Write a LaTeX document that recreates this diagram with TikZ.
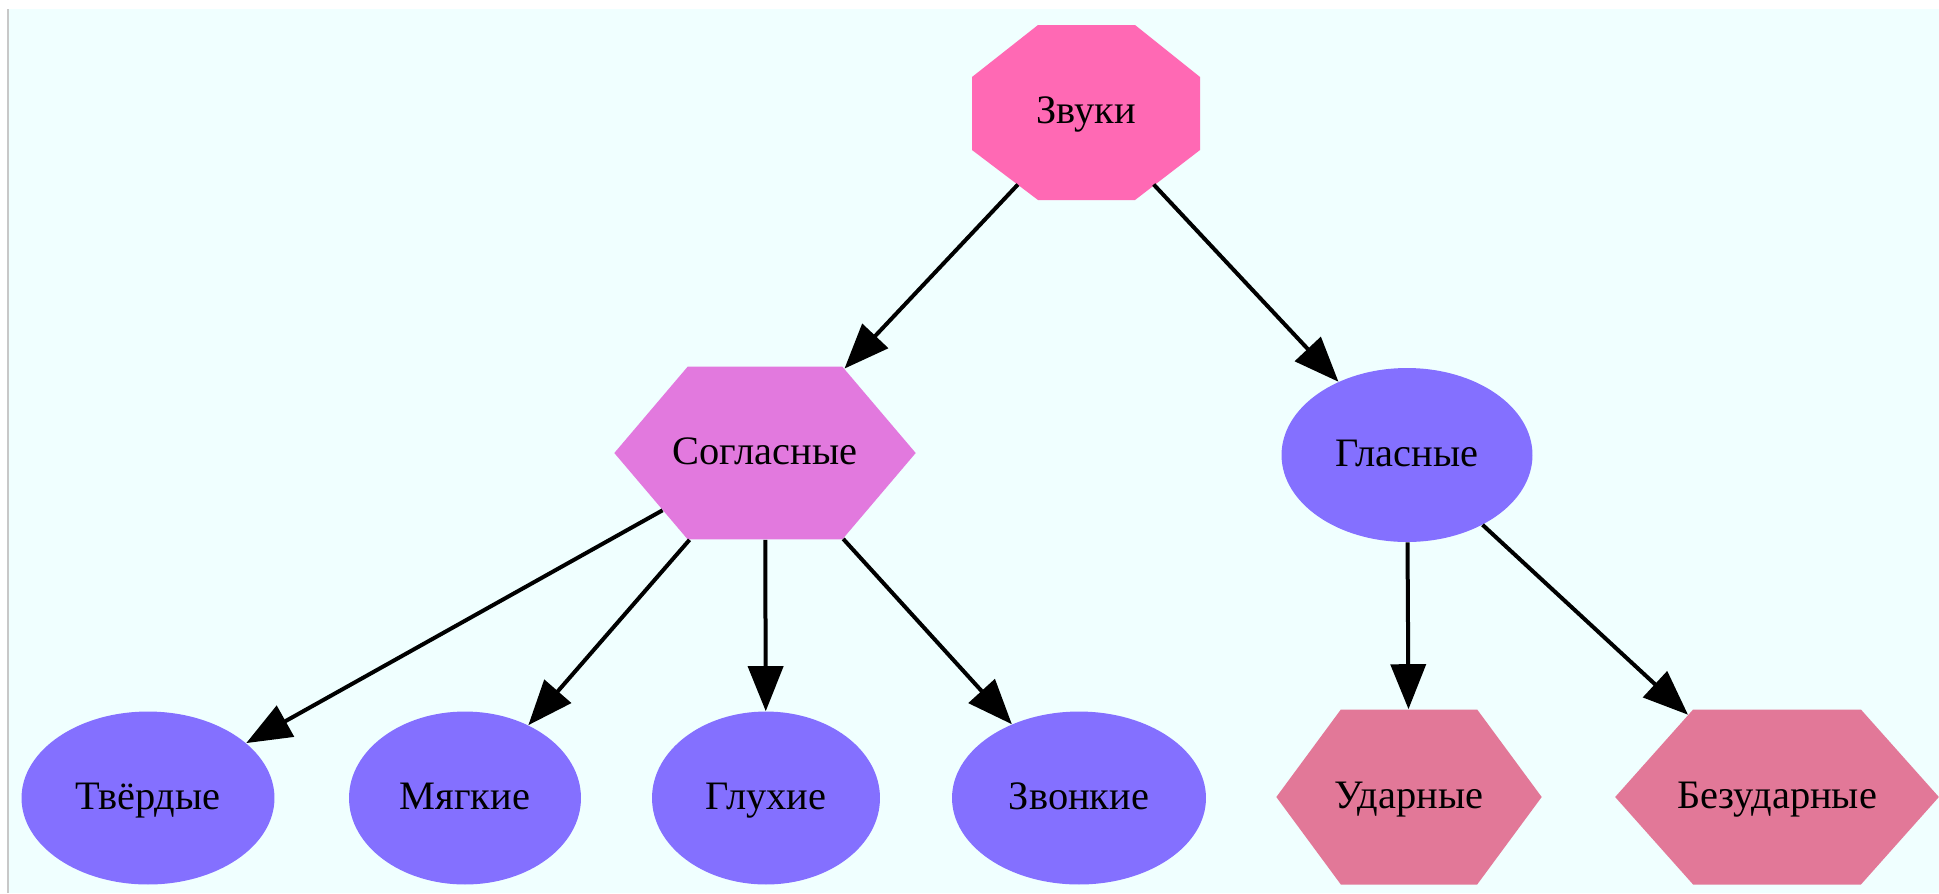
\documentclass[tikz,border=0pt]{standalone}
\usepackage{fontspec}
\setmainfont{Liberation Serif}
\usepackage{xcolor}
\usepackage{tikz}
\usetikzlibrary{arrows.meta,shapes.geometric,shapes.symbols}

\definecolor{bgazure}{HTML}{F0FFFF}
\definecolor{framegray}{HTML}{C8C8C8}
\definecolor{rootpink}{HTML}{FF69B4}
\definecolor{consorchid}{HTML}{E279DE}
\definecolor{ovalblue}{HTML}{8470FF}
\definecolor{stresspink}{HTML}{E27898}

\begin{document}
\begin{tikzpicture}[x=0.02cm,y=-0.02cm,
    every node/.style={font=\fontsize{23}{27}\selectfont,inner sep=0pt,
                       text height=0.6cm,text depth=0.16cm},
    oval/.style={ellipse,fill=ovalblue,minimum height=3.46cm},
    hexa/.style={signal,signal to=east and west,minimum height=3.5cm},
    arrowline/.style={-{Triangle[length=0.9cm,width=0.7cm]},line width=0.08cm}]
    % Frame
    \useasboundingbox (0,0) rectangle (1939,893);
    \fill[white] (0,0) rectangle (1939,893);
    \fill[bgazure] (9,9) rectangle (1939,893);
    \fill[framegray] (7,9) rectangle (9,893);

    % Root (octagon)
    \fill[rootpink] (1038,25) -- (1135,25) -- (1200,77) -- (1200,150) --
                    (1135,200) -- (1038,200) -- (972,150) -- (972,77) -- cycle;
    \node[minimum width=4.56cm,minimum height=3.5cm] (zvuki) at (1086,112) {Звуки};

    % Second level
    \node[hexa,fill=consorchid,inner xsep=-0.3cm,signal pointer angle=99.3,minimum height=3.46cm] (sogl) at (765,453) {Согласные};
    \node[oval,minimum width=5.02cm,minimum height=3.48cm] (glas) at (1407,455) {Гласные};

    % Bottom row
    \node[oval,minimum width=5.06cm] (tverd) at (148,798) {Твёрдые};
    \node[oval,minimum width=4.64cm] (myag) at (465,798) {Мягкие};
    \node[oval,minimum width=4.56cm] (gluh) at (766,798) {Глухие};
    \node[oval,minimum width=5.08cm] (zvon) at (1079,798) {Звонкие};
    \node[hexa,fill=stresspink,inner xsep=-0.12cm,signal pointer angle=107.2] (udar) at (1409,797) {Ударные};
    \node[hexa,fill=stresspink,inner xsep=-0.32cm,signal pointer angle=96.6] (bezud) at (1777,797) {Безударные};

    % Edges
    \draw[arrowline,shorten <=-0.42cm] (zvuki) -- (sogl);
    \draw[arrowline,shorten <=-0.42cm] (zvuki) -- (glas);
    \draw[arrowline] (sogl) -- (tverd);
    \draw[arrowline] (sogl) -- (myag);
    \draw[arrowline] (sogl) -- (gluh);
    \draw[arrowline] (sogl) -- (zvon);
    \draw[arrowline] (glas) -- (udar);
    \draw[arrowline] (glas) -- (bezud);
\end{tikzpicture}
\end{document}
